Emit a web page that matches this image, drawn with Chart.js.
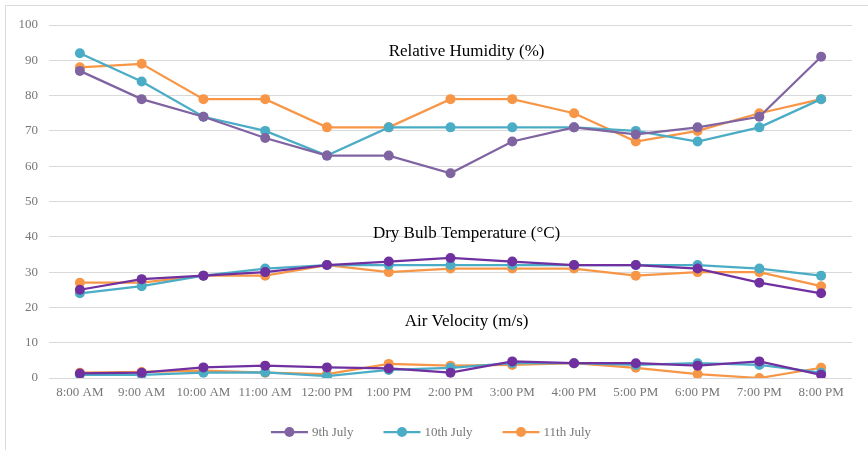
<!DOCTYPE html>
<html>
<head>
<meta charset="utf-8">
<title>Hourly readings</title>
<script src="https://cdn.jsdelivr.net/npm/chart.js@4.4.1/dist/chart.umd.min.js"></script>
<style>
  html, body { margin: 0; padding: 0; background: #fff; }
  #wrap { position: relative; width: 868px; height: 450px; }
</style>
</head>
<body>
<div id="wrap"><canvas id="readings"></canvas></div>
<script>
const hours = ['8:00 AM', '9:00 AM', '10:00 AM', '11:00 AM', '12:00 PM', '1:00 PM', '2:00 PM',
  '3:00 PM', '4:00 PM', '5:00 PM', '6:00 PM', '7:00 PM', '8:00 PM'];
const days = ['9th July', '10th July', '11th July'];
const yTicks = [0, 10, 20, 30, 40, 50, 60, 70, 80, 90, 100];

// relative humidity (%)
const rh9 = [87, 79, 74, 68, 63, 63, 58, 67, 71, 69, 71, 74, 91];
const rh10 = [92, 84, 74, 70, 63, 71, 71, 71, 71, 70, 67, 71, 79];
const rh11 = [88, 89, 79, 79, 71, 71, 79, 79, 75, 67, 70, 75, 79];

// dry bulb temperature (°C)
const dbt9 = [25, 28, 29, 30, 32, 33, 34, 33, 32, 32, 31, 27, 24];
const dbt10 = [24, 26, 29, 31, 32, 32, 32, 32, 32, 32, 32, 31, 29];
const dbt11 = [27, 27, 29, 29, 32, 30, 31, 31, 31, 29, 30, 30, 26];

// air velocity (m/s)
const av9 = [1.3, 1.5, 3.0, 3.5, 3.0, 2.7, 1.5, 4.7, 4.2, 4.2, 3.5, 4.7, 0.9];
const av10 = [0.9, 0.9, 1.5, 1.6, 0.5, 2.3, 2.9, 4.2, 4.2, 3.7, 4.2, 3.7, 1.5];
const av11 = [1.5, 1.7, 2.1, 1.5, 1.1, 4.0, 3.5, 3.7, 4.2, 2.9, 1.1, 0.0, 2.9];

const groupTitles = ['Relative Humidity (%)', 'Dry Bulb Temperature (°C)', 'Air Velocity (m/s)'];

const PURPLE = '#8064a2';
const PURPLE_DARK = '#7030a0';
const TEAL = '#4bacc6';
const ORANGE = '#f79646';
const GREY_TEXT = '#777777';
const SERIF = '"Liberation Serif", "Times New Roman", serif';
const dayColors = [PURPLE, TEAL, ORANGE];

function series(label, data, color) {
  return {
    label: label,
    data: data,
    borderColor: color,
    backgroundColor: color,
    pointBackgroundColor: color,
    pointBorderColor: color,
    borderWidth: 2.25,
    pointRadius: 5,
    pointHoverRadius: 5,
    pointBorderWidth: 0,
    tension: 0
  };
}

const datasets = [
  series(days[0], rh9, PURPLE),
  series(days[1], rh10, TEAL),
  series(days[2], rh11, ORANGE),
  series(days[0], dbt9, PURPLE_DARK),
  series(days[1], dbt10, TEAL),
  series(days[2], dbt11, ORANGE),
  series(days[0], av9, PURPLE_DARK),
  series(days[1], av10, TEAL),
  series(days[2], av11, ORANGE)
];

// outer frame, the three group captions and the shared legend
const decor = {
  id: 'decor',
  beforeDraw(chart) {
    const ctx = chart.ctx;
    ctx.save();
    ctx.strokeStyle = '#d9d9d9';
    ctx.lineWidth = 1;
    ctx.beginPath();
    ctx.moveTo(5.5, chart.height);
    ctx.lineTo(5.5, 5.5);
    ctx.lineTo(chart.width, 5.5);
    ctx.stroke();
    ctx.restore();
  },
  afterDatasetsDraw(chart) {
    const ctx = chart.ctx;
    const y = chart.scales.y;
    const a = chart.chartArea;
    const cx = a.left + (a.right - a.left) * 0.52;
    const at = [92.5, 41, 16.1];
    ctx.save();
    ctx.fillStyle = '#000';
    ctx.font = '17px ' + SERIF;
    ctx.textAlign = 'center';
    ctx.textBaseline = 'middle';
    groupTitles.forEach((t, i) => ctx.fillText(t, cx, y.getPixelForValue(at[i])));
    ctx.restore();
  },
  afterDraw(chart) {
    const ctx = chart.ctx;
    const lineW = 37, gapText = 4, gapItem = 30, ly = 432;
    ctx.save();
    ctx.font = '13px ' + SERIF;
    ctx.textBaseline = 'middle';
    const widths = days.map(d => lineW + gapText + ctx.measureText(d).width);
    const total = widths.reduce((s, w) => s + w, 0) + gapItem * (days.length - 1);
    let x = chart.width / 2 - total / 2 - 3;
    days.forEach((d, i) => {
      const c = dayColors[i];
      ctx.strokeStyle = c;
      ctx.lineWidth = 2.25;
      ctx.beginPath(); ctx.moveTo(x, ly); ctx.lineTo(x + lineW, ly); ctx.stroke();
      ctx.fillStyle = c;
      ctx.beginPath(); ctx.arc(x + lineW / 2, ly, 5, 0, Math.PI * 2); ctx.fill();
      ctx.fillStyle = GREY_TEXT;
      ctx.fillText(d, x + lineW + gapText, ly + 1);
      x += widths[i] + gapItem;
    });
    ctx.restore();
  }
};

new Chart(document.getElementById('readings'), {
  type: 'line',
  data: { labels: hours, datasets: datasets },
  options: {
    responsive: true,
    maintainAspectRatio: false,
    animation: false,
    layout: { padding: { left: 0, right: 16, top: 25, bottom: 32 } },
    scales: {
      x: {
        offset: true,
        grid: { display: false, drawTicks: false },
        border: { display: false },
        ticks: {
          color: GREY_TEXT,
          font: { family: SERIF, size: 13 },
          padding: 7,
          maxRotation: 0,
          autoSkip: false
        },
        afterFit(s) { s.height = 40; }
      },
      y: {
        min: 0,
        max: 100,
        afterBuildTicks(s) { s.ticks = yTicks.map(v => ({ value: v })); },
        grid: { color: '#d9d9d9', lineWidth: 1, drawTicks: false },
        border: { display: false },
        ticks: {
          color: GREY_TEXT,
          font: { family: SERIF, size: 13 },
          padding: 11
        },
        afterFit(s) { s.width = 49; }
      }
    },
    plugins: {
      legend: { display: false },
      tooltip: { enabled: false }
    }
  },
  plugins: [decor]
});
</script>
</body>
</html>
